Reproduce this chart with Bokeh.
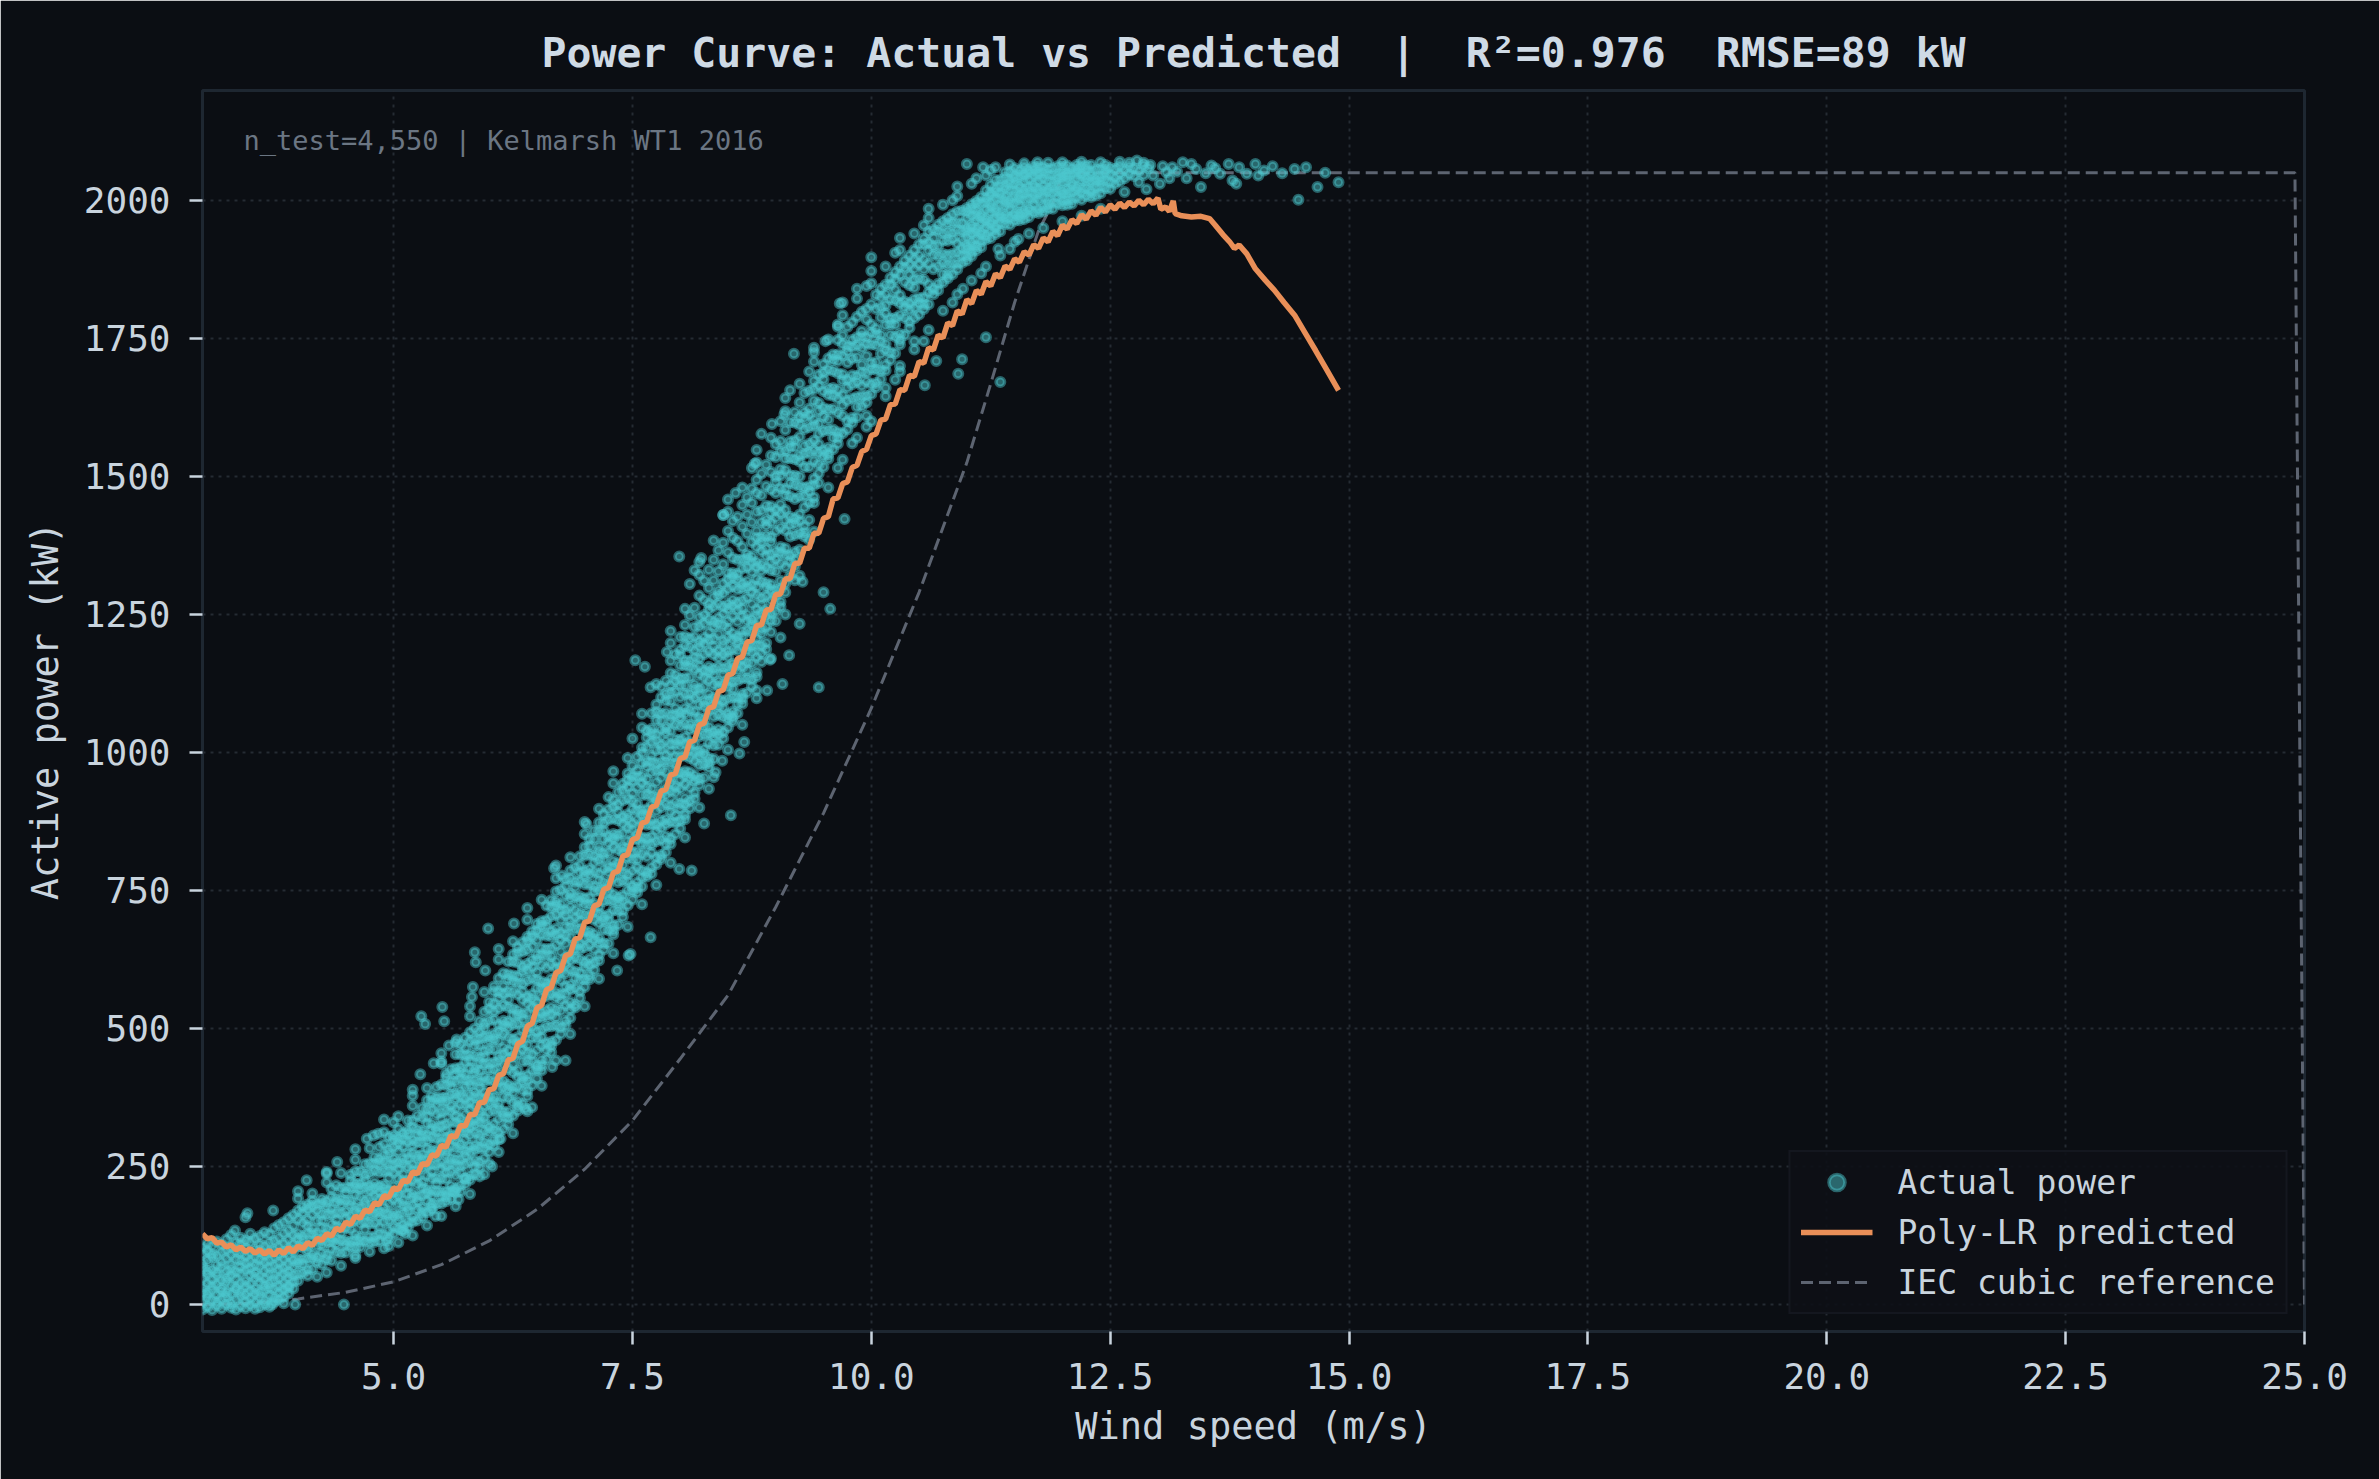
from bokeh.plotting import figure
from bokeh.models import (Range1d, FixedTicker, PrintfTickFormatter, Legend,
                          LegendItem, Label, ColumnDataSource)
from bokeh.embed import file_html
from bokeh.resources import INLINE

# ---------------- text ----------------
# (a no-break space keeps the double gaps of the original title visible in SVG)
TITLE = "Power Curve: Actual vs Predicted \u00a0|\u00a0 R²=0.976 \u00a0RMSE=89 kW"
X_LABEL = "Wind speed (m/s)"
Y_LABEL = "Active power (kW)"
NOTE = "n_test=4,550 | Kelmarsh WT1 2016"
LEGEND_LABELS = ["Actual power", "Poly-LR predicted", "IEC cubic reference"]
X_TICKS = [5.0, 7.5, 10.0, 12.5, 15.0, 17.5, 20.0, 22.5, 25.0]
Y_TICKS = [0, 250, 500, 750, 1000, 1250, 1500, 1750, 2000]
X_MIN, X_MAX = 3.0, 25.0
Y_MIN, Y_MAX = -49, 2199

# ---------------- actual power (scatter), read column by column ----------------
seg_a_ws = [3.00, 3.05, 3.10, 3.15, 3.20, 3.25, 3.30, 3.35, 3.40, 3.45,
            3.50, 3.55, 3.60, 3.65, 3.70, 3.75, 3.80, 3.85, 3.90, 3.95,
            4.00, 4.05, 4.10, 4.15, 4.20, 4.25, 4.30, 4.35, 4.40, 4.45,
            4.50, 4.55, 4.60, 4.65, 4.70, 4.75, 4.80, 4.85, 4.90, 4.95,
            5.00, 5.05, 5.10, 5.15, 5.20, 5.25, 5.30, 5.35, 5.40, 5.45,
            5.50, 5.55, 5.60, 5.65, 5.70, 5.75, 5.80, 5.85, 5.90, 5.95]
seg_a_kw = [
    [-9, 3, 21, 30, 47, 66, 74, 92, 103],
    [-4, 12, 19, 38, 55, 61, 80, 97, 110],
    [-10, 8, 26, 33, 45, 63, 85, 91, 106],
    [-2, 5, 17, 36, 52, 58, 71, 89, 114],
    [-8, 10, 24, 29, 44, 67, 77, 95, 108],
    [0, 14, 22, 41, 49, 60, 83, 99, 118],
    [-6, 2, 19, 35, 53, 64, 72, 90, 104, 126],
    [-9, 9, 27, 31, 46, 59, 81, 96, 112],
    [-3, 15, 23, 39, 57, 68, 79, 93, 109, 121],
    [-7, 6, 18, 33, 42, 62, 75, 88, 101, 116],
    [-1, 11, 25, 37, 54, 65, 78, 94, 113, 128],
    [-8, 4, 20, 29, 48, 57, 71, 86, 99, 119],
    [-5, 13, 22, 40, 51, 69, 82, 97, 108, 124],
    [0, 8, 26, 35, 46, 61, 77, 90, 106, 131],
    [-4, 16, 30, 38, 55, 67, 80, 96, 112, 127],
    [5, 12, 28, 44, 53, 70, 86, 98, 115, 138],
    [9, 21, 33, 47, 63, 75, 91, 104, 121, 144],
    [14, 27, 39, 56, 66, 82, 95, 110, 129, 149],
    [20, 31, 49, 58, 73, 88, 101, 117, 134, 156],
    [29, 41, 53, 69, 80, 97, 109, 126, 143, 162],
    [43, 55, 74, 82, 105, 119, 129, 154, 170],
    [57, 73, 82, 103, 117, 124, 148, 166, 177],
    [52, 63, 83, 98, 107, 129, 142, 154, 173, 181],
    [64, 83, 91, 114, 128, 138, 163, 179, 188],
    [77, 86, 107, 121, 128, 152, 170, 181],
    [73, 93, 108, 117, 139, 152, 164, 183, 191],
    [82, 90, 113, 127, 137, 162, 178, 187],
    [79, 100, 114, 121, 145, 163, 174, 194, 209],
    [95, 110, 119, 141, 154, 166, 185, 193, 216],
    [93, 116, 130, 140, 165, 181, 190, 211],
    [94, 108, 115, 139, 157, 168, 188, 203, 212],
    [105, 114, 136, 149, 161, 180, 188, 211, 225, 235],
    [103, 117, 127, 152, 168, 177, 198, 212, 219, 241],
    [104, 115, 122, 146, 164, 175, 195, 210, 219, 241],
    [114, 136, 149, 161, 180, 188, 211, 225, 235, 254],
    [112, 122, 147, 163, 172, 193, 207, 214, 238, 256],
    [113, 123, 147, 165, 176, 196, 211, 220, 242, 255, 267],
    [115, 128, 140, 159, 167, 190, 204, 214, 239, 255, 264, 285],
    [125, 150, 166, 175, 196, 210, 217, 241, 259, 270, 290],
    [121, 134, 152, 163, 183, 198, 207, 229, 242, 254, 273, 281, 304],
    [128, 140, 159, 167, 190, 204, 214, 239, 255, 264, 285, 299, 306],
    [137, 153, 162, 183, 197, 204, 228, 246, 257, 277, 292, 301, 318],
    [134, 145, 165, 180, 189, 211, 224, 236, 255, 263, 286, 300, 310],
    [140, 150, 169, 177, 200, 214, 224, 249, 265, 274, 295, 309, 316, 333],
    [150, 159, 180, 194, 201, 225, 243, 254, 274, 289, 298, 320, 333],
    [152, 172, 187, 196, 218, 231, 243, 262, 270, 293, 307, 317, 342],
    [158, 167, 175, 198, 212, 222, 247, 263, 272, 293, 307, 314, 338, 356],
    [167, 188, 202, 209, 233, 251, 262, 282, 297, 306, 328, 341, 353, 370],
    [171, 182, 197, 206, 228, 241, 253, 272, 280, 303, 317, 327, 352, 368, 377],
    [182, 205, 219, 229, 254, 270, 279, 300, 314, 321, 345, 363, 374, 394],
    [183, 197, 204, 228, 246, 257, 277, 292, 301, 323, 336, 348, 367, 375, 398],
    [187, 196, 205, 227, 240, 252, 271, 279, 302, 316, 326, 351, 367, 376, 397, 411, 418],
    [191, 205, 215, 240, 256, 265, 286, 300, 307, 331, 349, 360, 380, 395, 404, 426],
    [203, 210, 234, 252, 263, 283, 298, 307, 329, 342, 354, 373, 381, 404, 418, 428, 453],
    [204, 216, 238, 251, 263, 282, 290, 313, 327, 337, 362, 378, 387, 408, 422, 429, 453, 471],
    [218, 228, 253, 269, 278, 299, 313, 320, 344, 362, 373, 393, 408, 417, 439, 452, 464, 483],
    [226, 234, 258, 276, 287, 307, 322, 331, 353, 366, 378, 397, 405, 428, 442, 452, 477, 493],
    [236, 249, 261, 280, 288, 311, 325, 335, 360, 376, 385, 406, 420, 427, 451, 469, 480, 500],
    [248, 258, 283, 299, 308, 329, 343, 350, 374, 392, 403, 423, 438, 447, 469, 482, 494, 513],
    [265, 283, 294, 314, 329, 338, 360, 373, 385, 404, 412, 435, 449, 459, 484, 500, 509, 530],
]

seg_b_ws = [6.00, 6.05, 6.10, 6.15, 6.20, 6.25, 6.30, 6.35, 6.40, 6.45,
            6.50, 6.55, 6.60, 6.65, 6.70, 6.75, 6.80, 6.85, 6.90, 6.95,
            7.00, 7.05, 7.10, 7.15, 7.20, 7.25, 7.30, 7.35, 7.40, 7.45,
            7.50, 7.55, 7.60, 7.65, 7.70, 7.75, 7.80, 7.85, 7.90, 7.95,
            8.00, 8.05, 8.10, 8.15, 8.20, 8.25, 8.30, 8.35, 8.40, 8.45,
            8.50, 8.55, 8.60, 8.65, 8.70, 8.75, 8.80, 8.85, 8.90, 8.95]
seg_b_kw = [
    [276, 290, 312, 321, 348, 365, 377, 407, 426, 437, 462, 478, 486, 514, 535, 548],
    [288, 297, 316, 327, 352, 368, 376, 404, 425, 438, 462, 480, 490, 516, 531, 545, 567, 576],
    [299, 312, 336, 354, 364, 390, 405, 419, 441, 450, 477, 494, 506, 536, 555, 566, 591],
    [318, 340, 349, 376, 393, 405, 435, 454, 465, 490, 506, 514, 542, 563, 576, 600],
    [326, 338, 349, 374, 390, 398, 426, 447, 460, 484, 502, 512, 538, 553, 567, 589, 598, 621],
    [342, 366, 384, 394, 420, 435, 449, 471, 480, 507, 524, 536, 566, 585, 596, 621, 634],
    [351, 359, 368, 395, 412, 424, 454, 473, 484, 509, 525, 533, 561, 582, 595, 619, 637, 647],
    [363, 388, 404, 412, 440, 461, 474, 498, 516, 526, 552, 567, 581, 603, 612, 639, 656],
    [377, 387, 405, 415, 441, 456, 470, 492, 501, 528, 545, 557, 587, 606, 617, 642, 658, 666],
    [397, 424, 441, 453, 483, 502, 513, 538, 554, 562, 590, 611, 624, 648, 666, 676],
    [409, 425, 433, 461, 482, 495, 519, 537, 547, 573, 588, 602, 624, 633, 660, 677, 689],
    [424, 433, 443, 469, 484, 498, 520, 529, 556, 573, 585, 615, 634, 645, 670, 686, 694],
    [444, 461, 473, 503, 522, 533, 558, 574, 582, 610, 631, 644, 668, 686, 696, 722],
    [457, 468, 476, 504, 525, 538, 562, 580, 590, 616, 631, 645, 667, 676, 703, 720, 732],
    [479, 505, 520, 534, 556, 565, 592, 609, 621, 651, 670, 681, 706, 722, 730, 748],
    [490, 502, 532, 551, 562, 587, 603, 611, 639, 660, 673, 697, 715, 725, 751],
    [505, 514, 542, 563, 576, 600, 618, 628, 654, 669, 683, 705, 714, 741, 758, 770],
    [519, 534, 548, 570, 579, 606, 623, 635, 665, 684, 695, 720, 736, 744, 772, 786],
    [538, 543, 573, 592, 603, 628, 644, 652, 680, 701, 714, 738, 756, 766, 792],
    [555, 567, 588, 601, 625, 643, 653, 679, 694, 708, 730, 739, 766, 783, 795, 812],
    [575, 589, 611, 620, 647, 664, 676, 706, 725, 736, 761, 777, 785, 813, 828],
    [589, 596, 615, 626, 651, 667, 675, 703, 724, 737, 761, 779, 789, 815, 830, 843],
    [606, 619, 643, 661, 671, 697, 712, 726, 748, 757, 784, 801, 813, 843, 858],
    [623, 633, 655, 664, 691, 708, 720, 750, 769, 780, 805, 821, 829, 857, 873],
    [643, 654, 679, 695, 703, 731, 752, 765, 789, 807, 817, 843, 858, 872, 888],
    [654, 678, 696, 706, 732, 747, 761, 783, 792, 819, 836, 848, 878, 897],
    [670, 678, 687, 714, 731, 743, 773, 792, 803, 828, 844, 852, 880, 901, 914],
    [688, 713, 729, 737, 765, 786, 799, 823, 841, 851, 877, 892, 906, 928],
    [702, 713, 731, 741, 767, 782, 796, 818, 827, 854, 871, 883, 913, 932, 943],
    [723, 750, 767, 779, 809, 828, 839, 864, 880, 888, 916, 937, 950, 962],
    [733, 749, 757, 785, 806, 819, 843, 861, 871, 897, 912, 926, 948, 957, 976],
    [746, 755, 765, 791, 806, 820, 842, 851, 878, 895, 907, 937, 956, 967, 992],
    [757, 774, 786, 816, 835, 846, 871, 887, 895, 923, 944, 957, 981, 999, 1009],
    [775, 783, 811, 832, 845, 869, 887, 897, 923, 938, 952, 974, 983, 1010, 1027, 1039],
    [780, 792, 818, 833, 847, 869, 878, 905, 922, 934, 964, 983, 994, 1019, 1035, 1043, 1071],
    [797, 809, 839, 858, 869, 894, 910, 918, 946, 967, 980, 1004, 1022, 1032, 1058, 1073, 1087],
    [807, 814, 842, 863, 876, 900, 918, 928, 954, 969, 983, 1005, 1014, 1041, 1058, 1070, 1100, 1119],
    [819, 834, 848, 870, 879, 906, 923, 935, 965, 984, 995, 1020, 1036, 1044, 1072, 1093, 1106, 1130],
    [834, 844, 874, 893, 904, 929, 945, 953, 981, 1002, 1015, 1039, 1057, 1067, 1093, 1108, 1122, 1144, 1166],
    [852, 873, 886, 910, 928, 938, 964, 979, 993, 1015, 1024, 1051, 1068, 1080, 1110, 1129, 1140, 1178],
    [862, 876, 898, 907, 934, 951, 963, 993, 1012, 1023, 1048, 1064, 1072, 1100, 1121, 1134, 1158, 1176, 1186, 1209],
    [879, 887, 906, 917, 942, 958, 966, 994, 1015, 1028, 1052, 1070, 1080, 1106, 1121, 1135, 1157, 1166, 1193, 1210, 1231],
    [899, 912, 936, 954, 964, 990, 1005, 1019, 1041, 1050, 1077, 1094, 1106, 1136, 1155, 1166, 1191, 1207, 1248],
    [916, 927, 949, 958, 985, 1002, 1014, 1044, 1063, 1074, 1099, 1115, 1123, 1151, 1172, 1185, 1209, 1227, 1262],
    [941, 952, 977, 993, 1001, 1029, 1050, 1063, 1087, 1105, 1115, 1141, 1156, 1170, 1192, 1201, 1228, 1245, 1284],
    [954, 978, 996, 1006, 1032, 1047, 1061, 1083, 1092, 1119, 1136, 1148, 1178, 1197, 1208, 1233, 1249, 1276, 1311],
    [972, 981, 990, 1017, 1034, 1046, 1076, 1095, 1106, 1131, 1147, 1155, 1183, 1204, 1217, 1241, 1259, 1269, 1298, 1331],
    [988, 1013, 1029, 1037, 1065, 1086, 1099, 1123, 1141, 1151, 1177, 1192, 1206, 1228, 1237, 1264, 1281, 1312, 1349],
    [1014, 1032, 1042, 1068, 1083, 1097, 1119, 1128, 1155, 1172, 1184, 1214, 1233, 1244, 1269, 1285, 1293, 1328, 1366],
    [1025, 1037, 1064, 1081, 1093, 1123, 1142, 1153, 1178, 1194, 1202, 1230, 1251, 1264, 1288, 1306, 1341, 1380],
    [1045, 1061, 1069, 1097, 1118, 1131, 1155, 1173, 1183, 1209, 1224, 1238, 1260, 1269, 1296, 1313, 1325, 1362, 1401],
    [1057, 1064, 1074, 1100, 1115, 1129, 1151, 1160, 1187, 1204, 1216, 1246, 1265, 1276, 1301, 1317, 1325, 1352, 1389, 1419],
    [1071, 1088, 1100, 1130, 1149, 1160, 1185, 1201, 1209, 1237, 1258, 1271, 1295, 1313, 1323, 1349, 1383, 1427],
    [1088, 1098, 1106, 1134, 1155, 1168, 1192, 1210, 1220, 1246, 1261, 1275, 1297, 1306, 1333, 1350, 1372, 1409, 1448],
    [1108, 1134, 1149, 1163, 1185, 1194, 1221, 1238, 1250, 1280, 1299, 1310, 1335, 1351, 1359, 1396, 1431, 1462],
    [1120, 1132, 1162, 1181, 1192, 1217, 1233, 1241, 1269, 1290, 1303, 1327, 1345, 1355, 1381, 1417, 1452, 1478],
    [1137, 1145, 1173, 1194, 1207, 1231, 1249, 1259, 1285, 1300, 1314, 1336, 1345, 1372, 1389, 1401, 1436, 1470, 1494],
    [1164, 1179, 1193, 1215, 1224, 1251, 1268, 1280, 1310, 1329, 1340, 1365, 1381, 1389, 1417, 1438, 1466, 1505],
    [1187, 1198, 1228, 1247, 1258, 1283, 1299, 1307, 1335, 1356, 1369, 1393, 1411, 1421, 1447, 1482, 1521],
    [1218, 1239, 1252, 1276, 1294, 1304, 1330, 1345, 1359, 1381, 1390, 1417, 1434, 1446, 1476, 1508, 1538],
]

seg_c_ws = [9.00, 9.05, 9.10, 9.15, 9.20, 9.25, 9.30, 9.35, 9.40, 9.45,
            9.50, 9.55, 9.60, 9.65, 9.70, 9.75, 9.80, 9.85, 9.90, 9.95,
            10.00, 10.05, 10.10, 10.15, 10.20, 10.25, 10.30, 10.35, 10.40, 10.45,
            10.50, 10.55, 10.60, 10.65, 10.70, 10.75, 10.80, 10.85, 10.90, 10.95,
            11.00, 11.05, 11.10, 11.15, 11.20, 11.25, 11.30, 11.35, 11.40, 11.45,
            11.50, 11.55, 11.60, 11.65, 11.70, 11.75, 11.80, 11.85, 11.90, 11.95,
            12.00, 12.05, 12.10, 12.15, 12.20, 12.25, 12.30, 12.35, 12.40, 12.45,
            12.50, 12.55, 12.60, 12.65, 12.70, 12.75, 12.80, 12.85]
seg_c_kw = [
    [1238, 1256, 1283, 1294, 1328, 1349, 1364, 1401, 1425, 1439, 1470, 1490, 1500, 1535, 1558],
    [1264, 1273, 1297, 1311, 1342, 1362, 1372, 1407, 1433, 1449, 1479, 1501, 1513, 1545, 1564],
    [1290, 1306, 1336, 1358, 1370, 1402, 1421, 1439, 1466, 1477, 1511, 1532, 1547, 1584],
    [1319, 1346, 1357, 1391, 1412, 1427, 1464, 1488, 1502, 1533, 1553, 1563, 1598],
    [1337, 1349, 1363, 1394, 1414, 1424, 1459, 1485, 1501, 1531, 1553, 1565, 1597, 1616],
    [1367, 1397, 1419, 1431, 1463, 1482, 1500, 1527, 1538, 1572, 1593, 1608, 1634],
    [1391, 1399, 1410, 1444, 1465, 1480, 1517, 1541, 1555, 1586, 1606, 1616, 1651],
    [1421, 1452, 1472, 1482, 1517, 1543, 1559, 1589, 1611, 1623, 1655],
    [1452, 1462, 1484, 1496, 1528, 1547, 1565, 1592, 1603, 1637, 1658, 1673],
    [1488, 1505, 1522, 1543, 1558, 1577, 1595, 1619, 1633, 1664, 1684],
    [1517, 1537, 1547, 1582, 1608, 1624, 1654, 1676, 1688, 1703],
    [1532, 1540, 1552, 1584, 1603, 1621, 1648, 1659, 1693, 1714],
    [1549, 1570, 1585, 1622, 1646, 1660, 1691, 1711, 1721],
    [1559, 1570, 1580, 1615, 1641, 1657, 1687, 1709, 1721, 1747],
    [1578, 1610, 1629, 1647, 1674, 1685, 1719, 1740, 1755],
    [1585, 1600, 1637, 1661, 1675, 1706, 1726, 1736, 1771],
    [1597, 1606, 1641, 1667, 1683, 1713, 1735, 1747, 1779],
    [1607, 1626, 1644, 1671, 1682, 1716, 1737, 1752, 1789],
    [1627, 1645, 1664, 1688, 1702, 1733, 1753, 1763, 1798],
    [1634, 1646, 1672, 1688, 1718, 1740, 1752, 1784, 1803],
    [1649, 1667, 1694, 1705, 1739, 1760, 1775, 1812],
    [1661, 1669, 1693, 1707, 1738, 1758, 1768, 1803, 1829],
    [1676, 1692, 1722, 1744, 1756, 1788, 1807, 1825, 1840],
    [1692, 1702, 1729, 1740, 1774, 1795, 1810, 1830, 1847],
    [1711, 1725, 1756, 1776, 1786, 1821, 1847, 1860],
    [1723, 1753, 1775, 1787, 1819, 1838, 1856, 1870],
    [1739, 1747, 1758, 1792, 1813, 1828, 1865, 1880],
    [1756, 1787, 1807, 1817, 1852, 1878, 1891],
    [1769, 1780, 1802, 1814, 1846, 1865, 1883, 1900],
    [1787, 1805, 1821, 1842, 1857, 1876, 1894, 1910],
    [1793, 1813, 1823, 1858, 1884, 1900, 1920],
    [1803, 1812, 1824, 1856, 1875, 1893, 1920, 1931],
    [1812, 1833, 1848, 1885, 1909, 1923, 1943],
    [1830, 1840, 1875, 1901, 1917, 1932, 1947],
    [1837, 1849, 1881, 1900, 1918, 1945, 1956],
    [1851, 1866, 1886, 1903, 1927, 1941, 1962],
    [1859, 1866, 1884, 1901, 1927, 1943, 1958, 1968],
    [1866, 1885, 1903, 1930, 1941, 1960, 1975],
    [1875, 1885, 1905, 1922, 1946, 1960, 1980],
    [1887, 1900, 1913, 1929, 1945, 1959, 1981],
    [1891, 1899, 1912, 1917, 1933, 1943, 1950, 1968, 1979, 1986],
    [1899, 1907, 1918, 1925, 1940, 1950, 1955, 1972, 1985, 1993],
    [1909, 1917, 1931, 1942, 1948, 1964, 1973, 1981, 1994, 1999],
    [1915, 1926, 1939, 1944, 1960, 1970, 1977, 1995, 2006],
    [1929, 1936, 1951, 1961, 1966, 1983, 1996, 2004, 2018],
    [1932, 1946, 1957, 1963, 1979, 1988, 1996, 2009, 2014, 2028],
    [1939, 1948, 1953, 1969, 1979, 1986, 2004, 2015, 2022, 2037],
    [1944, 1959, 1969, 1974, 1991, 2004, 2012, 2026, 2037],
    [1957, 1968, 1974, 1990, 1999, 2007, 2020, 2025, 2041, 2051],
    [1956, 1968, 1984, 1994, 2001, 2019, 2030, 2037, 2052],
    [1963, 1973, 1978, 1995, 2008, 2016, 2030, 2041, 2047, 2058],
    [1964, 1971, 1977, 1993, 2002, 2010, 2023, 2028, 2044, 2054],
    [1966, 1976, 1983, 2001, 2012, 2019, 2034, 2044, 2049, 2060],
    [1970, 1981, 1986, 2003, 2016, 2024, 2038, 2049, 2055],
    [1978, 1994, 2003, 2011, 2024, 2029, 2045, 2055, 2062],
    [1977, 1984, 2002, 2013, 2020, 2035, 2045, 2050, 2061],
    [1980, 1988, 2005, 2018, 2026, 2040, 2051, 2060],
    [1985, 1994, 2002, 2015, 2020, 2036, 2046, 2057],
    [1985, 1996, 2014, 2025, 2032, 2047, 2058],
    [1994, 2007, 2015, 2029, 2040, 2046, 2062],
    [1991, 1999, 2012, 2017, 2033, 2043, 2050, 2061],
    [1992, 2001, 2012, 2019, 2034, 2044, 2049, 2063],
    [1994, 2002, 2016, 2027, 2033, 2049, 2058],
    [2005, 2018, 2023, 2039, 2049, 2056, 2064],
    [2001, 2014, 2021, 2036, 2046, 2051, 2062],
    [2008, 2022, 2033, 2039, 2055, 2063],
    [2006, 2014, 2019, 2035, 2045, 2052, 2064],
    [2009, 2024, 2034, 2039, 2056],
    [2013, 2024, 2035, 2041, 2057],
    [2022, 2038, 2048, 2055, 2064],
    [2021, 2033, 2046, 2059],
    [2030, 2041, 2057],
    [2034, 2048, 2062],
    [2040, 2055],
    [2047, 2061],
    [2044, 2058],
    [2053],
    [2046, 2063],
]

# looser fringe just outside the dense band (upper-left and lower-right edges)
fringe_ws = [4.00, 4.00, 4.15, 4.30, 4.30, 4.30, 4.45, 4.45, 4.60, 4.60,
             4.60, 4.75, 4.75, 4.90, 4.90, 4.90, 5.05, 5.05, 5.20, 5.20,
             5.20, 5.35, 5.35, 5.50, 5.50, 5.50, 5.65, 5.65, 5.80, 5.80,
             5.80, 5.95, 5.95, 6.10, 6.10, 6.10, 6.25, 6.25, 6.40, 6.40,
             6.40, 6.55, 6.55, 6.70, 6.70, 6.70, 6.85, 6.85, 7.00, 7.00,
             7.00, 7.15, 7.15, 7.30, 7.30, 7.30, 7.45, 7.45, 7.60, 7.60,
             7.60, 7.75, 7.75, 7.90, 7.90, 7.90, 8.05, 8.05, 8.20, 8.20,
             8.20, 8.35, 8.35, 8.50, 8.50, 8.50, 8.65, 8.65, 8.80, 8.80,
             8.80, 8.95, 8.95, 9.10, 9.10, 9.10, 9.25, 9.25, 9.40, 9.40,
             9.40, 9.55, 9.55, 9.70, 9.70, 9.70, 9.85, 9.85, 10.00, 10.00,
             10.00, 10.15, 10.15, 10.30, 10.30, 10.30, 10.45, 10.45, 10.60, 10.60,
             10.60, 10.75, 10.75, 10.90, 10.90, 10.90, 11.05, 11.05, 11.20, 11.20,
             11.35, 11.50, 11.65, 11.80, 12.00, 12.20, 12.40,
             8.15, 8.45, 8.75, 9.05, 9.35, 9.65, 9.95, 10.25, 10.55, 10.85,
             9.35, 9.65, 9.95, 10.25, 10.55, 10.85, 11.15, 11.45]
fringe_kw = [192, 205, 201, 221, 240, 58, 238, 70, 262, 281,
             84, 283, 96, 312, 335, 102, 341, 112, 360, 378,
             125, 392, 143, 436, 455, 160, 474, 178, 522, 540,
             200, 566, 236, 625, 644, 276, 658, 310, 697, 718,
             350, 733, 396, 772, 795, 442, 810, 490, 852, 874,
             540, 898, 590, 944, 966, 636, 990, 684, 1045, 1070,
             725, 1124, 760, 1198, 1220, 800, 1260, 846, 1322, 1345,
             900, 1384, 955, 1436, 1458, 1005, 1480, 1050, 1525, 1548,
             1098, 1570, 1170, 1618, 1642, 1250, 1668, 1320, 1708, 1733,
             1400, 1748, 1480, 1792, 1815, 1530, 1822, 1570, 1850, 1872,
             1600, 1880, 1645, 1910, 1932, 1690, 1940, 1730, 1968, 1985,
             1765, 1992, 1800, 2008, 2025, 1830, 2030, 1855, 2045, 1880,
             1900, 1925, 1940, 1950, 1962, 1972, 1985,
             1330, 1430, 1515, 1600, 1690, 1775, 1845, 1905, 1955, 2000,
             1385, 1515, 1590, 1675, 1745, 1815, 1868, 1912]

# isolated points outside the dense band
outlier_ws = [3.34, 3.45, 3.47, 3.74, 3.90, 3.97, 3.73, 3.85, 4.20, 4.48,
              4.60, 4.09, 4.30, 4.41, 4.72, 4.84, 4.79, 4.93, 4.95, 5.09,
              5.12, 5.00, 5.20, 5.28, 5.29, 5.33, 5.42, 5.50, 5.51, 5.53,
              5.58, 5.66, 5.40, 5.44, 5.63, 5.68, 5.75, 5.82, 5.83, 5.85,
              5.86, 5.96, 5.99, 5.90, 6.00, 6.03, 6.12, 6.38, 6.45, 6.66,
              6.80, 7.34, 7.48, 7.69, 7.46, 7.99, 8.12, 8.25, 8.53, 8.30,
              8.37, 8.44, 8.62, 8.67, 8.80, 8.91, 8.94, 9.07, 9.05, 9.14,
              9.25, 9.28, 9.45, 9.57, 9.50, 9.20, 9.72, 6.26, 6.76, 6.68,
              7.02, 7.25, 7.50, 7.53, 7.63, 7.86, 7.69, 7.99, 8.10, 8.22,
              8.45, 8.58, 8.85, 8.96, 9.09, 8.78, 9.15, 9.19, 9.52, 9.65,
              9.67, 10.00, 9.85, 9.40, 10.56, 10.68, 10.91, 10.95, 11.20, 11.35,
              10.96, 11.33, 11.54, 10.30, 10.15, 9.95, 9.80, 10.45, 11.00, 11.17,
              11.74, 12.78, 13.26, 13.35, 13.56, 13.74, 13.78, 13.93, 14.02, 14.11,
              13.45, 14.43, 14.47, 14.67, 14.89, 12.80, 13.02, 12.65, 13.09, 13.65,
              13.82, 12.90, 12.95, 13.05, 13.12, 13.15, 13.20, 12.88, 12.92, 13.30,
              13.40, 13.50, 13.60, 13.85, 14.05, 14.20, 14.30, 14.55, 14.75, 12.85,
              12.70, 12.60, 12.40, 12.20, 12.00, 11.85, 11.60, 11.45, 11.30, 11.10,
              11.25]
outlier_kw = [134, 158, 165, 170, 34, 0, 0, 2, 50, 0,
              89, 225, 237, 258, 300, 309, 306, 116, 106, 134,
              128, 330, 389, 417, 522, 508, 437, 440, 539, 513,
              469, 480, 176, 160, 205, 190, 228, 557, 575, 638,
              620, 605, 681, 232, 255, 250, 300, 355, 357, 430,
              442, 605, 635, 665, 632, 789, 786, 871, 886, 934,
              964, 985, 998, 1019, 1112, 1112, 1168, 1124, 1208, 1176,
              1233, 1309, 1118, 1260, 1290, 1312, 1423, 690, 777, 790,
              870, 919, 1025, 1167, 1155, 1182, 1118, 1355, 1305, 1352,
              1430, 1470, 1577, 1595, 1612, 1523, 1656, 1722, 1745, 1771,
              1813, 1897, 1840, 1725, 1665, 1709, 1686, 1712, 1752, 1671,
              1840, 1912, 1930, 1700, 1660, 1610, 1560, 1745, 2066, 2060,
              2069, 2072, 2069, 2066, 2063, 2066, 2036, 2048, 2066, 2054,
              2024, 2057, 2001, 2024, 2033, 2033, 2030, 2015, 2051, 2048,
              2030, 2058, 2045, 2062, 2040, 2060, 2052, 2020, 2064, 2040,
              2057, 2049, 2058, 2060, 2045, 2062, 2049, 2060, 2050, 2068,
              2068, 2070, 2069, 2070, 2069, 2068, 2067, 2065, 2060, 2040,
              2055]

# ---------------- Poly-LR prediction (line) ----------------
pred_ws = [3.00, 3.05, 3.10, 3.15, 3.20, 3.25, 3.30, 3.35, 3.40, 3.45,
           3.50, 3.55, 3.60, 3.65, 3.70, 3.75, 3.80, 3.85, 3.90, 3.95,
           4.00, 4.05, 4.10, 4.15, 4.20, 4.25, 4.30, 4.35, 4.40, 4.45,
           4.50, 4.55, 4.60, 4.65, 4.70, 4.75, 4.80, 4.85, 4.90, 4.95,
           5.00, 5.05, 5.10, 5.15, 5.20, 5.25, 5.30, 5.35, 5.40, 5.45,
           5.50, 5.55, 5.60, 5.65, 5.70, 5.75, 5.80, 5.85, 5.90, 5.95,
           6.00, 6.05, 6.10, 6.15, 6.20, 6.25, 6.30, 6.35, 6.40, 6.45,
           6.50, 6.55, 6.60, 6.65, 6.70, 6.75, 6.80, 6.85, 6.90, 6.95,
           7.00, 7.05, 7.10, 7.15, 7.20, 7.25, 7.30, 7.35, 7.40, 7.45,
           7.50, 7.55, 7.60, 7.65, 7.70, 7.75, 7.80, 7.85, 7.90, 7.95,
           8.00, 8.05, 8.10, 8.15, 8.20, 8.25, 8.30, 8.35, 8.40, 8.45,
           8.50, 8.55, 8.60, 8.65, 8.70, 8.75, 8.80, 8.85, 8.90, 8.95,
           9.00, 9.05, 9.10, 9.15, 9.20, 9.25, 9.30, 9.35, 9.40, 9.45,
           9.50, 9.55, 9.60, 9.65, 9.70, 9.75, 9.80, 9.85, 9.90, 9.95,
           10.00, 10.05, 10.10, 10.15, 10.20, 10.25, 10.30, 10.35, 10.40, 10.45,
           10.50, 10.55, 10.60, 10.65, 10.70, 10.75, 10.80, 10.85, 10.90, 10.95,
           11.00, 11.05, 11.10, 11.15, 11.20, 11.25, 11.30, 11.35, 11.40, 11.45,
           11.50, 11.55, 11.60, 11.65, 11.70, 11.75, 11.80, 11.85, 11.90, 11.95,
           12.00, 12.05, 12.10, 12.15, 12.20, 12.25, 12.30, 12.35, 12.40, 12.45,
           12.50, 12.55, 12.60, 12.65, 12.70, 12.75, 12.80, 12.85, 12.90, 12.95,
           13.00, 13.03, 13.08, 13.12, 13.16, 13.18, 13.25, 13.35, 13.45, 13.54,
           13.60, 13.68, 13.75, 13.80, 13.85, 13.93, 14.02, 14.12, 14.22, 14.32,
           14.43, 14.54, 14.65, 14.77, 14.89]
pred_kw = [128, 119, 121, 111, 113, 104, 108, 99, 104, 96,
           101, 93, 99, 91, 98, 89, 99, 92, 103, 95,
           106, 101, 112, 107, 120, 116, 128, 124, 138, 134,
           149, 145, 160, 156, 171, 168, 184, 181, 197, 194,
           211, 208, 225, 222, 240, 237, 255, 253, 271, 269,
           288, 285, 306, 303, 324, 323, 344, 344, 366, 366,
           389, 391, 415, 418, 443, 446, 472, 477, 504, 509,
           537, 542, 570, 574, 601, 605, 632, 635, 662, 665,
           692, 695, 722, 725, 752, 755, 782, 785, 812, 815,
           842, 845, 872, 875, 901, 904, 930, 933, 959, 962,
           989, 992, 1019, 1022, 1050, 1053, 1080, 1083, 1110, 1113,
           1140, 1143, 1170, 1173, 1200, 1203, 1230, 1231, 1258, 1259,
           1286, 1287, 1314, 1315, 1342, 1343, 1370, 1370, 1397, 1397,
           1424, 1427, 1459, 1461, 1487, 1490, 1516, 1520, 1545, 1549,
           1574, 1577, 1602, 1604, 1630, 1631, 1657, 1656, 1683, 1681,
           1708, 1705, 1733, 1729, 1756, 1751, 1778, 1773, 1800, 1794,
           1820, 1813, 1837, 1830, 1853, 1845, 1867, 1860, 1881, 1875,
           1894, 1888, 1907, 1901, 1920, 1913, 1932, 1925, 1944, 1936,
           1955, 1948, 1965, 1958, 1974, 1966, 1981, 1973, 1987, 1979,
           1992, 1984, 1995, 1987, 1997, 1990, 2000, 1992, 2002, 1994,
           2004, 1984, 1988, 1980, 1999, 1976, 1972, 1970, 1971, 1967,
           1955, 1938, 1925, 1913, 1919, 1903, 1876, 1856, 1837, 1815,
           1792, 1760, 1728, 1692, 1656]

# ---------------- IEC cubic reference (dashed) ----------------
iec_ws = [3.0, 3.5, 4.0, 4.5, 5.0, 5.5, 6.0, 6.5, 7.0, 7.5, 8.0, 8.5, 9.0,
          9.5, 10.0, 10.5, 11.0, 11.25, 11.5, 11.75, 11.9, 12.0, 24.9, 25.0]
iec_kw = [0, 2, 10, 22, 41, 72, 115, 172, 245, 333, 445, 560, 720,
          890, 1080, 1290, 1525, 1668, 1815, 1945, 1995, 2050, 2050, 0]

# ---------------- style ----------------
FONT = "DejaVu Sans Mono"
BG = "#0b0e13"
SPINE = "#1e2731"
GRID = "#252b33"
TEXT = "#c9d4de"
TITLE_C = "#cfdae5"
NOTE_C = "#6b7683"
CYAN = "#4cc8cf"
ORANGE = "#e98f58"
IEC_C = "#5d6471"

# flatten the scatter columns
act_ws, act_kw = [], []
for cols_ws, cols_kw in ((seg_a_ws, seg_a_kw), (seg_b_ws, seg_b_kw), (seg_c_ws, seg_c_kw)):
    for x, ys in zip(cols_ws, cols_kw):
        act_ws.extend([x] * len(ys))
        act_kw.extend(ys)
act_ws.extend(fringe_ws)
act_kw.extend(fringe_kw)
act_ws.extend(outlier_ws)
act_kw.extend(outlier_kw)

W, H = 2379, 1479
p = figure(width=W, height=H, output_backend="svg", toolbar_location=None,
           x_range=Range1d(X_MIN, X_MAX), y_range=Range1d(Y_MIN, Y_MAX),
           background_fill_color=BG, border_fill_color=BG,
           min_border_left=202, min_border_right=75,
           min_border_top=90, min_border_bottom=148)

p.title.text = TITLE
p.title.align = "center"
p.title.text_font = FONT
p.title.text_font_size = "41.5px"
p.title.text_font_style = "bold"
p.title.text_color = TITLE_C
p.title.standoff = 28

p.outline_line_color = SPINE
p.outline_line_width = 3

for ax in (p.xaxis[0], p.yaxis[0]):
    ax.axis_line_color = None
    ax.major_tick_line_color = TEXT
    ax.major_tick_line_width = 2.5
    ax.major_tick_out = 13
    ax.major_tick_in = 0
    ax.minor_tick_line_color = None
    ax.major_label_text_font = FONT
    ax.major_label_text_font_size = "36px"
    ax.major_label_text_color = TEXT
    ax.axis_label_text_font = FONT
    ax.axis_label_text_font_size = "37px"
    ax.axis_label_text_color = TEXT
    ax.axis_label_text_font_style = "normal"

p.xaxis.axis_label = X_LABEL
p.yaxis.axis_label = Y_LABEL
p.xaxis.ticker = FixedTicker(ticks=X_TICKS)
p.yaxis.ticker = FixedTicker(ticks=Y_TICKS)
p.xaxis.formatter = PrintfTickFormatter(format="%.1f")
p.yaxis.formatter = PrintfTickFormatter(format="%d")
p.xaxis.major_label_standoff = 18
p.yaxis.major_label_standoff = 19
p.xaxis.axis_label_standoff = 13
p.yaxis.axis_label_standoff = 14

for g in (p.xgrid[0], p.ygrid[0]):
    g.grid_line_color = GRID
    g.grid_line_dash = "3 5"
    g.grid_line_width = 2
p.xgrid.ticker = FixedTicker(ticks=X_TICKS)
p.ygrid.ticker = FixedTicker(ticks=Y_TICKS)

r_iec = p.line(iec_ws, iec_kw, line_color=IEC_C, line_width=3, line_dash="12 6")
src = ColumnDataSource(dict(ws=act_ws, kw=act_kw))
r_act = p.scatter("ws", "kw", source=src, marker="circle", size=8.5,
                  fill_color=CYAN, fill_alpha=0.48,
                  line_color=CYAN, line_alpha=0.46, line_width=3.5)
r_pred = p.line(pred_ws, pred_kw, line_color=ORANGE, line_width=5.5)

legend = Legend(items=[LegendItem(label=LEGEND_LABELS[0], renderers=[r_act]),
                       LegendItem(label=LEGEND_LABELS[1], renderers=[r_pred]),
                       LegendItem(label=LEGEND_LABELS[2], renderers=[r_iec])],
                location="bottom_right")
legend.label_text_font = FONT
legend.label_text_font_size = "33px"
legend.label_text_color = TEXT
legend.glyph_width = 72
legend.glyph_height = 40
legend.label_height = 40
legend.spacing = 10
legend.padding = 10
legend.margin = 17
legend.label_standoff = 25
legend.background_fill_color = "#0d1016"
legend.background_fill_alpha = 0.9
legend.border_line_color = "#1b2029"
legend.border_line_width = 2
p.add_layout(legend)

note = Label(x=X_MIN + 0.0195 * (X_MAX - X_MIN), y=Y_MAX - 0.028 * (Y_MAX - Y_MIN),
             text=NOTE, text_font=FONT, text_font_size="27px",
             text_color=NOTE_C, text_baseline="top", text_align="left")
p.add_layout(note)

open("out.html", "w").write(file_html(p, INLINE))
